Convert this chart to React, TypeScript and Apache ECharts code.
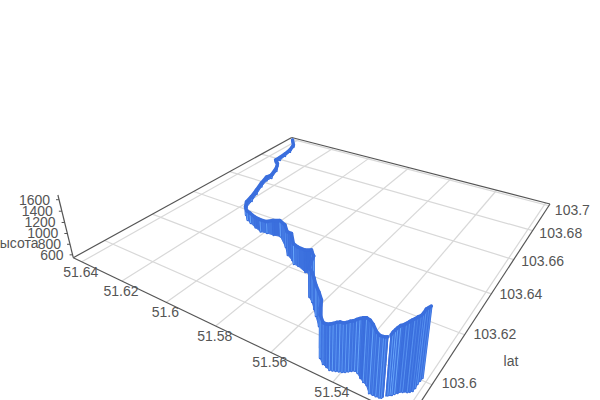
import React, { useEffect, useRef } from "react";
import * as echarts from "echarts";

const lngTicks = [51.64, 51.62, 51.6, 51.58, 51.56, 51.54, 51.52];
const lngLabels = ["51.64", "51.62", "51.6", "51.58", "51.56", "51.54"];
const latTicks = [103.6, 103.62, 103.64, 103.66, 103.68, 103.7];
const latLabels = ["103.6", "103.62", "103.64", "103.66", "103.68", "103.7"];
const altTicks = [600, 800, 1000, 1200, 1400, 1600];

const lngValues = [
  51.6408, 51.6368, 51.6348, 51.634, 51.6333, 51.6333, 51.6303, 51.6276, 51.6252, 51.6255,
  51.6238, 51.6213, 51.6192, 51.6177, 51.6139, 51.611, 51.6086, 51.605, 51.6016, 51.599,
  51.5962, 51.5935, 51.5878, 51.5842, 51.5812, 51.5793, 51.5774, 51.5735, 51.5708, 51.5697,
  51.5678, 51.5664, 51.5649, 51.5628, 51.5604, 51.5582, 51.555, 51.5523, 51.5497, 51.5476,
  51.5457, 51.5443, 51.5431, 51.5423, 51.5415, 51.5407, 51.5399, 51.5392, 51.5386, 51.538,
  51.5374, 51.5363, 51.5348, 51.5335, 51.5323, 51.5304, 51.5294, 51.5285, 51.5276, 51.5271,
  51.5268, 51.5264, 51.5261, 51.5257, 51.5253, 51.5249, 51.5244, 51.5241, 51.5235, 51.5231,
  51.5225, 51.522, 51.5215, 51.5214, 51.5215, 51.5214, 51.5213,
];
const latValues = [
  103.6976, 103.6933, 103.6883, 103.6838, 103.6795, 103.6766, 103.6743, 103.6704, 103.6644, 103.6617,
  103.6567, 103.651, 103.6459, 103.6415, 103.637, 103.6347, 103.6337, 103.6323, 103.6312, 103.6316,
  103.6318, 103.6323, 103.6282, 103.6249, 103.6235, 103.622, 103.6219, 103.6205, 103.6203, 103.6191,
  103.6174, 103.6143, 103.6114, 103.61, 103.6078, 103.6057, 103.6028, 103.6003, 103.5962, 103.5933,
  103.592, 103.5916, 103.5912, 103.5914, 103.5917, 103.592, 103.5922, 103.5926, 103.5932, 103.5937,
  103.5942, 103.5939, 103.5929, 103.5922, 103.5918, 103.59, 103.59, 103.59, 103.5901, 103.5903,
  103.5907, 103.5913, 103.5917, 103.5921, 103.5923, 103.5929, 103.5935, 103.5941, 103.5944, 103.5948,
  103.5949, 103.5953, 103.5959, 103.597, 103.5984, 103.5996, 103.6007,
];
const altValues = [
  595, 594, 593, 593, 604, 603, 603, 614, 612, 623,
  622, 632, 641, 650, 710, 729, 748, 756, 784, 774,
  831, 860, 967, 989, 1040, 928, 899, 950, 1002, 1018,
  1032, 1044, 1057, 1070, 1082, 1078, 1120, 1130, 1201, 1241,
  1211, 1235, 1278, 1296, 1318, 1330, 1327, 1333, 1341, 1342,
  1356, 1406, 1485, 1539, 1546, 1592, 1509, 1479, 1479, 1478,
  1472, 1480, 1516, 1545, 1573, 1588, 1589, 1590, 1618, 1633,
  1660, 1681, 1689, 1692, 1689, 1671, 1653,
];
const gapAfterIndex = 60;

const LNG_MAX = 51.6445, LNG_MIN = 51.5183;
const LAT_MIN = 103.5884, LAT_MAX = 103.7015;
const ALT_MIN = 545, ALT_MAX = 1680;

// Camera: ground-plane homography plus the vanishing point of the vertical direction.
const [x0, y0] = [73.3, 257.7];
const [x1, y1] = [409.6, 419];
const [x2, y2] = [550, 204];
const [x3, y3] = [291.7, 137.5];
const den = (x1 - x2) * (y3 - y2) - (x3 - x2) * (y1 - y2);
const sx = x0 - x1 + x2 - x3, sy = y0 - y1 + y2 - y3;
const hg = (sx * (y3 - y2) - (x3 - x2) * sy) / den;
const hh = ((x1 - x2) * sy - sx * (y1 - y2)) / den;
const ha = x1 - x0 + hg * x1, hb = x3 - x0 + hh * x3;
const hd = y1 - y0 + hg * y1, he = y3 - y0 + hh * y3;
const VP = [316, 1245];
const LAMBDA = -0.0597;

function project(lng: number, lat: number, alt: number) {
  const s = (LNG_MAX - lng) / (LNG_MAX - LNG_MIN);
  const v = (lat - LAT_MIN) / (LAT_MAX - LAT_MIN);
  const z = ((alt - ALT_MIN) / (ALT_MAX - ALT_MIN)) * LAMBDA;
  const w = hg * s + hh * v + 1 + z;
  return [
    (ha * s + hb * v + x0 + z * VP[0]) / w,
    (hd * s + he * v + y0 + z * VP[1]) / w,
  ];
}

const FONT = '14px "Liberation Sans", Arial, sans-serif';
const LABEL = "#555";
const GRIDC = "#d8d8d8";
const EDGE = "#555";
const BASE = [58, 110, 221];
const LIGHT = [104, 166, 250];

const mix = (k: number) => {
  const c = BASE.map((b, i) => Math.round(b + (LIGHT[i] - b) * k));
  return `rgb(${c[0]},${c[1]},${c[2]})`;
};

const seg = (api: any, p: number[], q: number[], stroke: string, lineWidth: number, cap = "butt") => {
  const a = api.coord(p), b = api.coord(q);
  return {
    type: "line",
    shape: { x1: a[0], y1: a[1], x2: b[0], y2: b[1] },
    style: { stroke, lineWidth, lineCap: cap, fill: null },
    silent: true,
  };
};

const text = (api: any, p: number[], t: string, align: string) => {
  const a = api.coord(p);
  return {
    type: "text",
    style: { text: t, x: a[0], y: a[1], font: FONT, fill: LABEL, align, verticalAlign: "middle" },
    silent: true,
  };
};

const shadeOf = (i: number) => {
  const j = Math.min(i + 1, lngValues.length - 1), h = Math.max(j - 1, 0);
  const p = project(lngValues[h], latValues[h], altValues[h]);
  const q = project(lngValues[j], latValues[j], altValues[j]);
  const ang = Math.atan2(q[1] - p[1], q[0] - p[0]);
  return Math.min(1, Math.abs(Math.sin(ang * 7)));
};

const idx = lngValues.map((_, i) => [i]);

export default function App() {
  const ref = useRef<HTMLDivElement>(null);
  useEffect(() => {
    const chart = echarts.init(ref.current!, undefined, { renderer: "svg" });
    chart.setOption({
      animation: false,
      grid: { left: 0, right: 0, top: 0, bottom: 0 },
      xAxis: { type: "value", min: 0, max: 600, show: false },
      yAxis: { type: "value", min: 0, max: 400, inverse: true, show: false },
      series: [
        {
          type: "custom",
          name: "grid",
          clip: true,
          silent: true,
          data: [...lngTicks.map((t) => [0, t]), ...latTicks.map((t) => [1, t])],
          renderItem: (_: any, api: any) => {
            const kind = api.value(0), t = api.value(1);
            return kind === 0
              ? seg(api, project(t, LAT_MIN, ALT_MIN), project(t, LAT_MAX, ALT_MIN), GRIDC, 1.2)
              : seg(api, project(LNG_MAX, t, ALT_MIN), project(LNG_MIN, t, ALT_MIN), GRIDC, 1.2);
          },
        },
        {
          type: "custom",
          name: "box",
          clip: true,
          silent: true,
          data: [[0]],
          renderItem: (_: any, api: any) => ({
            type: "group",
            children: [
              seg(api, project(LNG_MAX, LAT_MIN, ALT_MIN), project(LNG_MAX, LAT_MAX, ALT_MIN), EDGE, 1.2),
              seg(api, project(LNG_MAX, LAT_MAX, ALT_MIN), project(LNG_MIN, LAT_MAX, ALT_MIN), EDGE, 1.2),
              seg(api, project(LNG_MAX, LAT_MIN, ALT_MIN), project(LNG_MIN, LAT_MIN, ALT_MIN), EDGE, 1.2),
              seg(api, project(LNG_MIN, LAT_MIN, ALT_MIN), project(LNG_MIN, LAT_MAX, ALT_MIN), EDGE, 1.2),
              seg(api, project(LNG_MAX, LAT_MIN, ALT_MIN), project(LNG_MAX, LAT_MIN, ALT_MAX), EDGE, 1.2),
              ...altTicks.map((t) => {
                const p = project(LNG_MAX, LAT_MIN, t);
                return seg(api, p, [p[0] - 3, p[1]], EDGE, 1);
              }),
            ],
          }),
        },
        {
          type: "custom",
          name: "wall",
          clip: true,
          silent: true,
          data: idx,
          renderItem: (_: any, api: any) => {
            const i = api.value(0);
            const children: any[] = [];
            const k = shadeOf(i);
            const top = project(lngValues[i], latValues[i], altValues[i]);
            const foot = project(lngValues[i], latValues[i], ALT_MIN);
            if (i < lngValues.length - 1 && i !== gapAfterIndex) {
              const g1 = project(lngValues[i + 1], latValues[i + 1], ALT_MIN);
              const t1 = project(lngValues[i + 1], latValues[i + 1], altValues[i + 1]);
              const pts = [top, t1, g1, foot].map((p) => api.coord(p));
              children.push({
                type: "polygon",
                shape: { points: pts },
                style: { fill: mix(k * 0.22), stroke: mix(k * 0.22), lineWidth: 1 },
                silent: true,
              });
            }
            const nearGap = i === gapAfterIndex || i === gapAfterIndex + 1;
            children.push(seg(api, top, foot, mix(0), nearGap ? 1 : 2.4, "round"));
            if (!nearGap) children.push(seg(api, top, foot, mix(k), 1.1));
            return { type: "group", children };
          },
        },
        {
          type: "custom",
          name: "ridge",
          clip: true,
          silent: true,
          data: idx,
          renderItem: (_: any, api: any) => {
            const i = api.value(0);
            if (i >= lngValues.length - 1 || i === gapAfterIndex) return { type: "group", children: [] };
            return seg(
              api,
              project(lngValues[i], latValues[i], altValues[i]),
              project(lngValues[i + 1], latValues[i + 1], altValues[i + 1]),
              mix(0),
              3.4,
              "round",
            );
          },
        },
        {
          type: "custom",
          name: "labels",
          clip: false,
          silent: true,
          data: [[0]],
          renderItem: (_: any, api: any) => ({
            type: "group",
            children: [
              ...lngLabels.map((l, i) => {
                const p = project(lngTicks[i], LAT_MIN, ALT_MIN);
                return text(api, [p[0] - 1, p[1] + 10], l, "center");
              }),
              ...latTicks.map((t, i) => {
                const p = project(LNG_MIN, t, ALT_MIN);
                const f = (t - latTicks[0]) / 0.1;
                return text(api, [p[0] + 9.7 - 3.7 * f, p[1] - 2 + 6 * f], latLabels[i], "left");
              }),
              ...altTicks.map((t) => {
                const p = project(LNG_MAX, LAT_MIN, t);
                return text(api, [p[0] - 9, p[1]], String(t), "right");
              }),
              text(api, [511, 360.5], "lat", "center"),
              text(api, [38.5, 243], "высота", "right"),
            ],
          }),
        },
      ],
    });
    return () => chart.dispose();
  }, []);
  return <div ref={ref} style={{ position: "fixed", left: 0, top: 0, width: 600, height: 400, background: "#fff" }} />;
}
